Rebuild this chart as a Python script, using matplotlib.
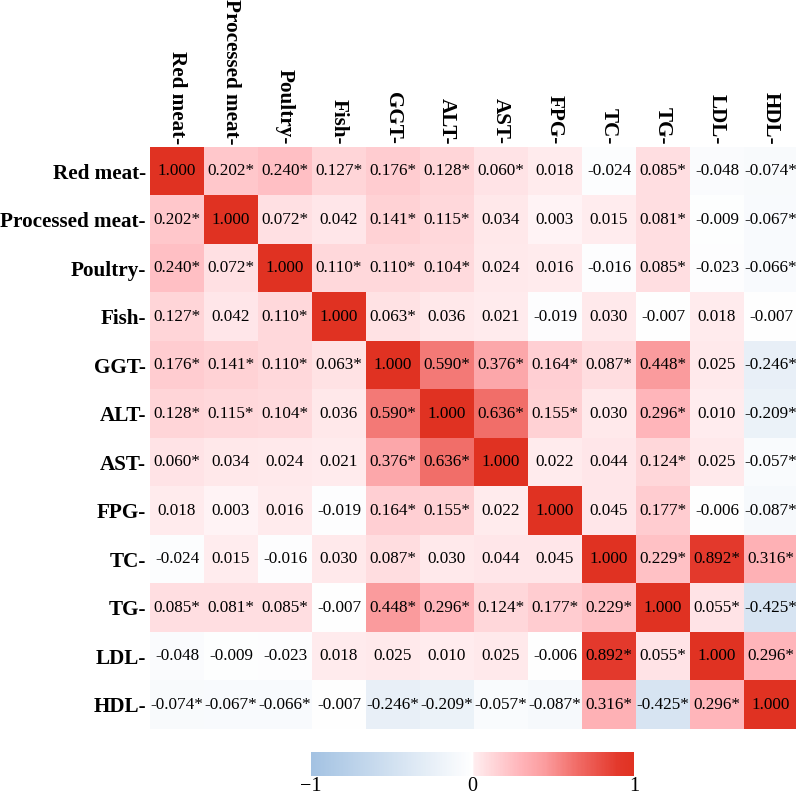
import numpy as np
import matplotlib
matplotlib.use("Agg")
import matplotlib.pyplot as plt
from matplotlib.colors import LinearSegmentedColormap, Normalize

labels = ["Red meat", "Processed meat", "Poultry", "Fish", "GGT", "ALT", "AST",
          "FPG", "TC", "TG", "LDL", "HDL"]

corr = [
    [1.000, 0.202, 0.240, 0.127, 0.176, 0.128, 0.060, 0.018, -0.024, 0.085, -0.048, -0.074],
    [0.202, 1.000, 0.072, 0.042, 0.141, 0.115, 0.034, 0.003, 0.015, 0.081, -0.009, -0.067],
    [0.240, 0.072, 1.000, 0.110, 0.110, 0.104, 0.024, 0.016, -0.016, 0.085, -0.023, -0.066],
    [0.127, 0.042, 0.110, 1.000, 0.063, 0.036, 0.021, -0.019, 0.030, -0.007, 0.018, -0.007],
    [0.176, 0.141, 0.110, 0.063, 1.000, 0.590, 0.376, 0.164, 0.087, 0.448, 0.025, -0.246],
    [0.128, 0.115, 0.104, 0.036, 0.590, 1.000, 0.636, 0.155, 0.030, 0.296, 0.010, -0.209],
    [0.060, 0.034, 0.024, 0.021, 0.376, 0.636, 1.000, 0.022, 0.044, 0.124, 0.025, -0.057],
    [0.018, 0.003, 0.016, -0.019, 0.164, 0.155, 0.022, 1.000, 0.045, 0.177, -0.006, -0.087],
    [-0.024, 0.015, -0.016, 0.030, 0.087, 0.030, 0.044, 0.045, 1.000, 0.229, 0.892, 0.316],
    [0.085, 0.081, 0.085, -0.007, 0.448, 0.296, 0.124, 0.177, 0.229, 1.000, 0.055, -0.425],
    [-0.048, -0.009, -0.023, 0.018, 0.025, 0.010, 0.025, -0.006, 0.892, 0.055, 1.000, 0.296],
    [-0.074, -0.067, -0.066, -0.007, -0.246, -0.209, -0.057, -0.087, 0.316, -0.425, 0.296, 1.000],
]

signif = [
    [0, 1, 1, 1, 1, 1, 1, 0, 0, 1, 0, 1],
    [1, 0, 1, 0, 1, 1, 0, 0, 0, 1, 0, 1],
    [1, 1, 0, 1, 1, 1, 0, 0, 0, 1, 0, 1],
    [1, 0, 1, 0, 1, 0, 0, 0, 0, 0, 0, 0],
    [1, 1, 1, 1, 0, 1, 1, 1, 1, 1, 0, 1],
    [1, 1, 1, 0, 1, 0, 1, 1, 0, 1, 0, 1],
    [1, 0, 0, 0, 1, 1, 0, 0, 0, 1, 0, 1],
    [0, 0, 0, 0, 1, 1, 0, 0, 0, 1, 0, 1],
    [0, 0, 0, 0, 1, 0, 0, 0, 0, 1, 1, 1],
    [1, 1, 1, 0, 1, 1, 1, 1, 1, 0, 1, 1],
    [0, 0, 0, 0, 0, 0, 0, 0, 1, 1, 0, 1],
    [1, 1, 1, 0, 1, 1, 1, 1, 1, 1, 1, 0],
]

cbar_ticks = [-1, 0, 1]

plt.rcParams["font.family"] = ["Liberation Serif", "DejaVu Serif"]

nodes = [(-1.0, "#a3c2e2"), (0.0, "#ffffff"), (0.006, "#ffeef0"),
         (0.3, "#ffb4b9"), (0.45, "#fb9c9e"), (0.65, "#f16c67"),
         (0.9, "#e3392c"), (1.0, "#e03222")]
cmap = LinearSegmentedColormap.from_list(
    "corr", [((v + 1) / 2, c) for v, c in nodes])
norm = Normalize(vmin=-1, vmax=1)

data = np.array(corr)
sig = np.array(signif)
n = len(labels)

fig = plt.figure(figsize=(7.96, 7.97), dpi=100)
ax = fig.add_axes([150 / 796, 1 - 729 / 797, 648 / 796, 582 / 797])
im = ax.imshow(data, cmap=cmap, norm=norm, aspect="auto",
               interpolation="nearest")

for i in range(n):
    for j in range(n):
        txt = f"{data[i, j]:.3f}" + ("*" if sig[i, j] else "")
        ax.text(j, i, txt, ha="center", va="center", fontsize=12.3,
                color="black")

ax.set_xticks(range(n))
ax.set_yticks(range(n))
ax.set_xticklabels([l + "-" for l in labels], rotation=-90,
                   fontsize=15.2, fontweight="bold")
ax.set_yticklabels([l + "-" for l in labels], fontsize=15.2,
                   fontweight="bold")
ax.xaxis.tick_top()
ax.tick_params(axis="both", length=0)
ax.tick_params(axis="x", pad=2)
ax.tick_params(axis="y", pad=3)
for lab in ax.get_xticklabels():
    lab.set_va("bottom")
    lab.set_ha("center")
for s in ax.spines.values():
    s.set_visible(False)

cax = fig.add_axes([311 / 796, 1 - 776 / 797, 323 / 796, 24 / 797])
cb = fig.colorbar(im, cax=cax, orientation="horizontal", ticks=cbar_ticks)
cb.outline.set_visible(False)
cb.ax.tick_params(length=0, labelsize=14.5, pad=1)
cb.ax.set_xticklabels(["\u22121", "0", "1"])

fig.savefig("out.png", dpi=100)
